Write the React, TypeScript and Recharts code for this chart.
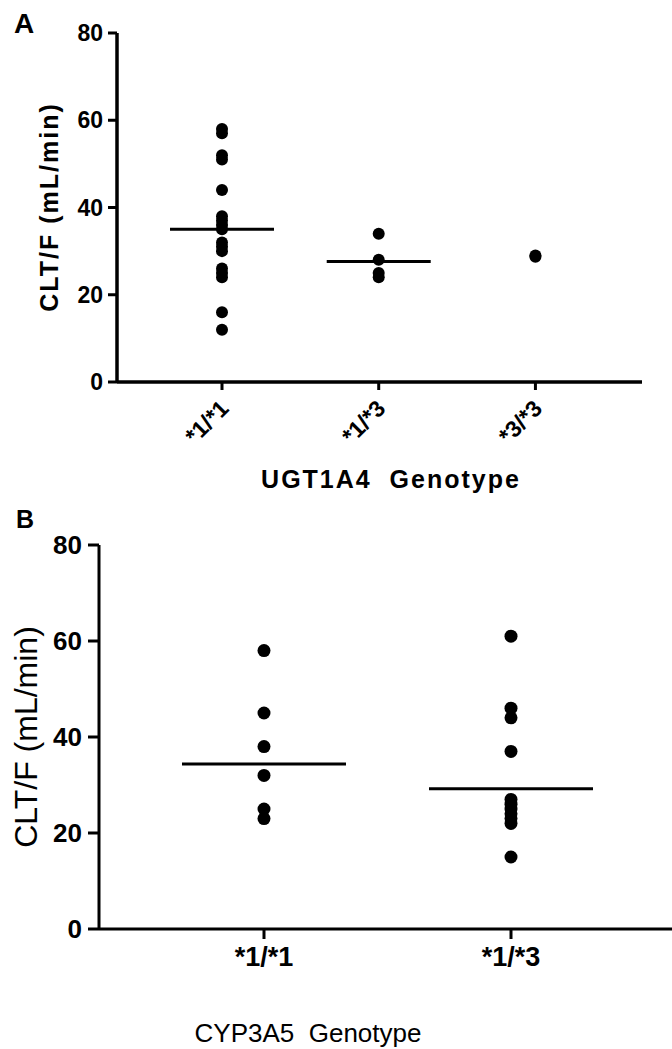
import React from 'react'
import { ScatterChart, Scatter, XAxis, YAxis } from 'recharts'

// panel A: UGT1A4
const genotypesA = ['*1/*1', '*1/*3', '*3/*3']
const ugt11 = [58, 57, 52, 51, 44, 38, 37, 36, 35, 32, 31, 30, 26, 25, 24, 16, 12]
const ugt13 = [34, 28, 25, 24]
const ugt33 = [29, 28.7]
const ugtMeans = [35, 27.6]

// panel B: CYP3A5
const genotypesB = ['*1/*1', '*1/*3']
const cyp11 = [58, 45, 38, 32, 25, 23]
const cyp13 = [61, 46, 44, 37, 27, 26, 25, 24, 23, 22, 15]
const cypMeans = [34.4, 29.2]

const yTicks = [0, 20, 40, 60, 80]

const toPoints = (group: number, values: number[]) => values.map((y) => ({ x: group, y }))
const meanPoints = (means: number[]) => means.map((y, i) => ({ x: i + 1, y }))

const pointsA = [...toPoints(1, ugt11), ...toPoints(2, ugt13), ...toPoints(3, ugt33)]
const pointsB = [...toPoints(1, cyp11), ...toPoints(2, cyp13)]

const FONT = "'Liberation Sans', Arial, sans-serif"

const dot = (r: number) => (p: any) => <circle cx={p.cx} cy={p.cy} r={r} fill="#000" />
const meanBar = (half: number, w: number) => (p: any) => (
  <line x1={p.cx - half} x2={p.cx + half} y1={p.cy} y2={p.cy} stroke="#000" strokeWidth={w} />
)

const RotTick = (p: any) => {
  const { x, y, payload } = p
  return (
    <text
      transform={`translate(${x + 8},${y + 18}) rotate(-45)`}
      textAnchor="end"
      fontFamily={FONT}
      fontWeight="bold"
      fontSize={23}
      fill="#000"
    >
      {genotypesA[payload.value - 1]}
    </text>
  )
}

export default function App() {
  return (
    <div style={{ position: 'absolute', left: 0, top: 0, width: 672, height: 1049, overflow: 'hidden', background: '#fff' }}>
      <div style={{ position: 'absolute', left: 0, top: 0 }}>
        <ScatterChart width={672} height={520} margin={{ top: 33, right: 30, bottom: 108, left: 57 }}>
          <XAxis
            type="number"
            dataKey="x"
            domain={[0.33, 3.68]}
            ticks={[1, 2, 3]}
            interval={0}
            height={30}
            tickSize={8}
            tickMargin={2}
            tick={<RotTick />}
            axisLine={{ stroke: '#000', strokeWidth: 3.5 }}
            tickLine={{ stroke: '#000', strokeWidth: 3 }}
          />
          <YAxis
            type="number"
            dataKey="y"
            domain={[0, 80]}
            ticks={yTicks}
            interval={0}
            width={60}
            tickSize={9}
            tickMargin={5}
            tick={{ fill: '#000', fontSize: 23, fontWeight: 'bold', fontFamily: FONT }}
            axisLine={{ stroke: '#000', strokeWidth: 3.5 }}
            tickLine={{ stroke: '#000', strokeWidth: 3 }}
          />
          <Scatter data={pointsA} shape={dot(6)} isAnimationActive={false} />
          <Scatter data={meanPoints(ugtMeans)} shape={meanBar(52, 3)} isAnimationActive={false} />
        </ScatterChart>
      </div>
      <div style={{ position: 'absolute', left: 0, top: 520 }}>
        <ScatterChart width={680} height={529} margin={{ top: 25, right: 4, bottom: 90, left: 39 }}>
          <XAxis
            type="number"
            dataKey="x"
            domain={[0.332, 2.668]}
            ticks={[1, 2]}
            interval={0}
            height={30}
            tickSize={10}
            tickMargin={8}
            tickFormatter={(v: number) => genotypesB[v - 1]}
            tick={{ fill: '#000', fontSize: 27, fontWeight: 'bold', fontFamily: FONT }}
            axisLine={{ stroke: '#000', strokeWidth: 3 }}
            tickLine={{ stroke: '#000', strokeWidth: 3 }}
          />
          <YAxis
            type="number"
            dataKey="y"
            domain={[0, 80]}
            ticks={yTicks}
            interval={0}
            width={60}
            tickSize={11}
            tickMargin={6}
            tick={{ fill: '#000', fontSize: 26, fontWeight: 'bold', fontFamily: FONT }}
            axisLine={{ stroke: '#000', strokeWidth: 3 }}
            tickLine={{ stroke: '#000', strokeWidth: 3 }}
          />
          <Scatter data={pointsB} shape={dot(6.5)} isAnimationActive={false} />
          <Scatter data={meanPoints(cypMeans)} shape={meanBar(82, 3)} isAnimationActive={false} />
        </ScatterChart>
      </div>
      <svg width={672} height={1049} style={{ position: 'absolute', left: 0, top: 0, pointerEvents: 'none' }}>
        <g fontFamily={FONT} fill="#000">
          <text x={14} y={33} fontSize={28} fontWeight="bold">A</text>
          <text x={16} y={528} fontSize={25} fontWeight="bold">B</text>
          <text
            transform="translate(58,207) rotate(-90)"
            textAnchor="middle"
            fontSize={25}
            fontWeight="bold"
            letterSpacing={2}
          >
            CLT/F (mL/min)
          </text>
          <text x={391} y={488} textAnchor="middle" fontSize={25} fontWeight="bold" letterSpacing={2} style={{ whiteSpace: 'pre' }}>
            {'UGT1A4  Genotype'}
          </text>
          <text transform="translate(37,737) rotate(-90)" textAnchor="middle" fontSize={32}>
            CLT/F (mL/min)
          </text>
          <text x={308} y={1042} textAnchor="middle" fontSize={26} style={{ whiteSpace: 'pre' }}>
            {'CYP3A5  Genotype'}
          </text>
        </g>
      </svg>
    </div>
  )
}
